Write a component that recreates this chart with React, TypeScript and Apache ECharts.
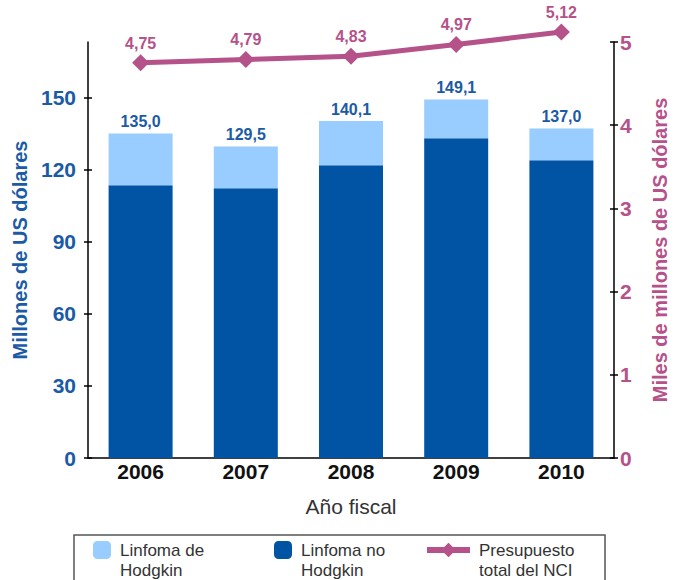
import React, { useEffect, useRef } from "react";
import * as echarts from "echarts";

const years = ["2006", "2007", "2008", "2009", "2010"];
const nonHodgkin = [113.4, 112.2, 121.7, 133.0, 123.8];
const hodgkin = [21.6, 17.3, 18.4, 16.1, 13.2];
const nciBudget = [4.75, 4.79, 4.83, 4.97, 5.12];
const leftTicks = [0, 30, 60, 90, 120, 150];

const FONT = "'Liberation Sans', Arial, Helvetica, sans-serif";
const BLUE_TXT = "#1b5ba6";
const DARK = "#0054a3";
const LIGHT = "#99ccff";
const MAG = "#b5528a";

const fmt = (v: number, d: number) => v.toFixed(d).replace(".", ",");

export default function App() {
  const ref = useRef<HTMLDivElement>(null);
  useEffect(() => {
    if (!ref.current) return;
    const chart = echarts.init(ref.current, undefined, { renderer: "svg" });
    const legendText = {
      fontFamily: FONT,
      fontSize: 17,
      color: "#333",
      lineHeight: 20,
      padding: [0, 0, 0, 4],
    };
    const legendBase = {
      top: 520,
      padding: 0,
      itemHeight: 18,
      textStyle: legendText,
      selectedMode: false,
    };
    chart.setOption({
      animation: false,
      backgroundColor: "#fff",
      grid: { left: 88, right: 63, top: 42, bottom: 122 },
      legend: [
        {
          ...legendBase,
          data: ["Linfoma de Hodgkin"],
          left: 93,
          itemWidth: 18,
          formatter: () => "\nLinfoma de\nHodgkin",
        },
        {
          ...legendBase,
          data: ["Linfoma no Hodgkin"],
          left: 274,
          itemWidth: 18,
          formatter: () => "\nLinfoma no\nHodgkin",
        },
        {
          ...legendBase,
          data: ["Presupuesto total del NCI"],
          left: 424,
          itemWidth: 43,
          lineStyle: { width: 6 },
          formatter: () => "\nPresupuesto\ntotal del NCI",
        },
      ],
      graphic: [
        {
          type: "rect",
          shape: { x: 74, y: 535, width: 531, height: 70 },
          style: { fill: "none", stroke: "#555", lineWidth: 1.5 },
          silent: true,
        },
      ],
      xAxis: {
        type: "category",
        data: years,
        axisLine: { lineStyle: { color: "#000", width: 1.5 } },
        axisTick: { show: false },
        axisLabel: {
          fontFamily: FONT,
          fontSize: 21,
          fontWeight: "bold",
          color: "#111",
          margin: 3,
        },
        name: "Año fiscal",
        nameLocation: "middle",
        nameGap: 38,
        nameTextStyle: { fontFamily: FONT, fontSize: 21, color: "#333" },
      },
      yAxis: [
        {
          type: "value",
          position: "left",
          min: 0,
          max: 173,
          interval: 30,
          splitLine: { show: false },
          axisLine: { show: true, lineStyle: { color: "#000", width: 1.5 } },
          axisTick: {
            show: true,
            length: 4,
            customValues: leftTicks,
            lineStyle: { color: "#000", width: 1.5 },
          },
          axisLabel: {
            customValues: leftTicks,
            fontFamily: FONT,
            fontSize: 21,
            fontWeight: "bold",
            color: BLUE_TXT,
            margin: 12,
          },
          name: "Millones de US dólares",
          nameLocation: "middle",
          nameGap: 58,
          nameTextStyle: {
            fontFamily: FONT,
            fontSize: 20,
            fontWeight: "bold",
            color: BLUE_TXT,
          },
        },
        {
          type: "value",
          position: "right",
          min: 0,
          max: 5,
          interval: 1,
          splitLine: { show: false },
          axisLine: { show: true, lineStyle: { color: "#000", width: 1.5 } },
          axisTick: {
            show: true,
            length: 4,
            lineStyle: { color: "#000", width: 1.5 },
          },
          axisLabel: {
            fontFamily: FONT,
            fontSize: 21,
            fontWeight: "bold",
            color: MAG,
            margin: 6,
          },
          name: "Miles de millones de US dólares",
          nameLocation: "middle",
          nameGap: 36,
          nameTextStyle: {
            fontFamily: FONT,
            fontSize: 20,
            fontWeight: "bold",
            color: MAG,
          },
        },
        {
          type: "value",
          position: "left",
          min: 0,
          max: 173,
          interval: 30,
          splitLine: { show: false },
          axisLine: { show: false },
          axisLabel: { show: false },
          axisTick: {
            show: true,
            inside: true,
            length: 4,
            customValues: leftTicks,
            lineStyle: { color: "#000", width: 1.5 },
          },
        },
        {
          type: "value",
          position: "right",
          min: 0,
          max: 5,
          interval: 1,
          splitLine: { show: false },
          axisLine: { show: false },
          axisLabel: { show: false },
          axisTick: {
            show: true,
            inside: true,
            length: 4,
            lineStyle: { color: "#000", width: 1.5 },
          },
        },
      ],
      series: [
        {
          name: "Linfoma no Hodgkin",
          type: "bar",
          stack: "total",
          yAxisIndex: 0,
          barWidth: 64,
          data: nonHodgkin,
          itemStyle: { color: DARK },
        },
        {
          name: "Linfoma de Hodgkin",
          type: "bar",
          stack: "total",
          yAxisIndex: 0,
          barWidth: 64,
          data: hodgkin,
          itemStyle: { color: LIGHT },
          label: {
            show: true,
            position: "top",
            distance: 4,
            fontFamily: FONT,
            fontSize: 16,
            fontWeight: "bold",
            color: BLUE_TXT,
            formatter: (p: any) => fmt(nonHodgkin[p.dataIndex] + hodgkin[p.dataIndex], 1),
          },
        },
        {
          name: "Presupuesto total del NCI",
          type: "line",
          yAxisIndex: 1,
          data: nciBudget,
          clip: false,
          symbol: "diamond",
          symbolSize: 17,
          lineStyle: { color: MAG, width: 5 },
          itemStyle: { color: MAG },
          label: {
            show: true,
            position: "top",
            distance: 3,
            fontFamily: FONT,
            fontSize: 16,
            fontWeight: "bold",
            color: MAG,
            formatter: (p: any) => fmt(p.value, 2),
          },
        },
      ],
    });
    return () => chart.dispose();
  }, []);
  return (
    <div
      ref={ref}
      style={{ position: "fixed", left: 0, top: 0, width: 678, height: 580 }}
    />
  );
}
